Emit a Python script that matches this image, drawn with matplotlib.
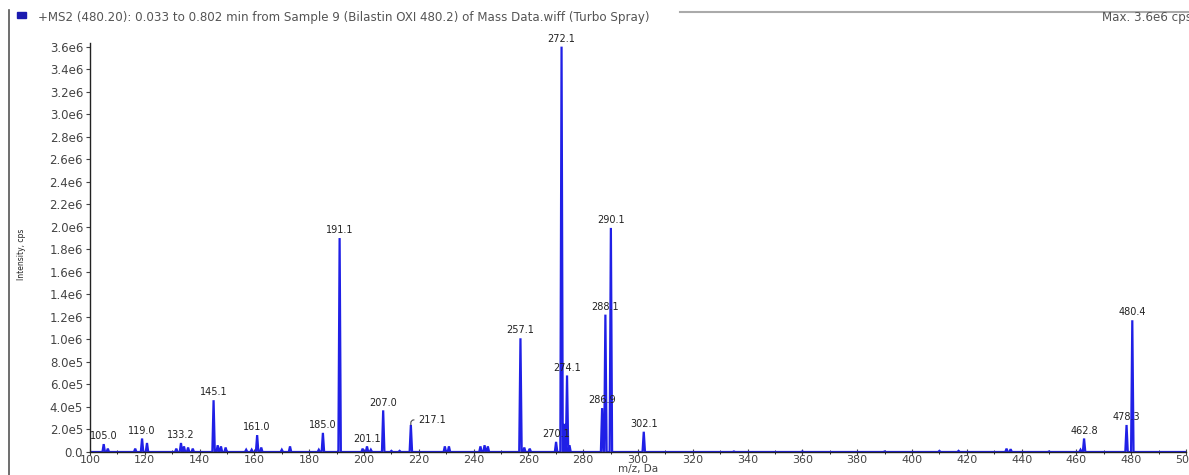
import matplotlib
matplotlib.use("Agg")
import matplotlib.pyplot as plt
from matplotlib.ticker import MultipleLocator, FuncFormatter
from matplotlib.patches import Rectangle
from matplotlib.lines import Line2D

# ---- data (m/z, intensity in cps) ----
peak_mz = [105.0, 106.5, 116.5, 119.0, 120.8, 131.5, 133.2, 134.3, 135.8, 137.5,
           145.1, 146.6, 147.8, 149.5, 157.0, 159.0, 161.0, 162.5, 170.0, 173.0,
           183.5, 185.0, 191.1, 199.5, 201.1, 202.5, 207.0, 210.0, 213.0, 217.1,
           229.5, 231.0, 242.5, 244.0, 245.2, 257.1, 258.5, 260.5, 270.1, 272.1,
           273.2, 274.1, 275.0, 286.9, 288.1, 290.1, 302.1, 335.0, 360.0, 390.0,
           410.0, 417.0, 434.5, 436.0, 450.0, 461.5, 462.8, 478.3, 480.4]
peak_int = [0.07e6, 0.03e6, 0.03e6, 0.12e6, 0.08e6, 0.03e6, 0.08e6, 0.05e6, 0.04e6, 0.03e6,
            0.46e6, 0.06e6, 0.05e6, 0.04e6, 0.02e6, 0.02e6, 0.15e6, 0.04e6, 0.02e6, 0.05e6,
            0.02e6, 0.17e6, 1.90e6, 0.03e6, 0.05e6, 0.02e6, 0.37e6, 0.01e6, 0.01e6, 0.24e6,
            0.05e6, 0.05e6, 0.05e6, 0.06e6, 0.05e6, 1.01e6, 0.04e6, 0.03e6, 0.09e6, 3.60e6,
            0.25e6, 0.68e6, 0.06e6, 0.39e6, 1.22e6, 1.99e6, 0.18e6, 0.005e6, 0.005e6, 0.005e6,
            0.01e6, 0.01e6, 0.03e6, 0.025e6, 0.005e6, 0.02e6, 0.12e6, 0.24e6, 1.17e6]

label_text = ["105.0", "119.0", "133.2", "145.1", "161.0", "185.0", "191.1", "201.1",
              "207.0", "217.1", "257.1", "270.1", "272.1", "274.1", "286.9", "288.1",
              "290.1", "302.1", "462.8", "478.3", "480.4"]
label_mz = [105.0, 119.0, 133.2, 145.1, 161.0, 185.0, 191.1, 201.1,
            207.0, 217.1, 257.1, 270.1, 272.1, 274.1, 286.9, 288.1,
            290.1, 302.1, 462.8, 478.3, 480.4]
label_int = [0.07e6, 0.12e6, 0.08e6, 0.46e6, 0.15e6, 0.17e6, 1.90e6, 0.05e6,
             0.37e6, 0.24e6, 1.01e6, 0.09e6, 3.60e6, 0.68e6, 0.39e6, 1.22e6,
             1.99e6, 0.18e6, 0.12e6, 0.24e6, 1.17e6]

header = "+MS2 (480.20): 0.033 to 0.802 min from Sample 9 (Bilastin OXI 480.2) of Mass Data.wiff (Turbo Spray)"
max_text = "Max. 3.6e6 cps"

W, H = 1189, 475
fig = plt.figure(figsize=(W / 100, H / 100), dpi=100)

ax_l, ax_r, ax_b, ax_t = 90, 1186, 452, 41
ax = fig.add_axes([ax_l / W, (H - ax_b) / H, (ax_r - ax_l) / W, (ax_b - ax_t) / H])

# build profile trace from peak list
blue = "#2020e6"
hw = 0.45
pts = sorted(zip(peak_mz, peak_int))
xs, ys = [100.0], [0.0]
for m, h in pts:
    xs += [m - hw, m, m + hw]
    ys += [0.0, h, 0.0]
xs.append(500.0)
ys.append(0.0)
ax.plot(xs, ys, color=blue, lw=1.6, solid_joinstyle="miter")

ax.set_xlim(100, 500)
ax.set_ylim(0, 3.65e6)

for s in ["top", "right"]:
    ax.spines[s].set_visible(False)
for s in ["left", "bottom"]:
    ax.spines[s].set_linewidth(1.0)
    ax.spines[s].set_color("#222222")
ax.spines["left"].set_bounds(0, 3.63e6)

ax.xaxis.set_major_locator(MultipleLocator(20))
ax.xaxis.set_minor_locator(MultipleLocator(10))
ax.yaxis.set_major_locator(MultipleLocator(0.2e6))


def yfmt(v, pos):
    if abs(v) < 1:
        return "0.0"
    s = "%.1e" % v
    mant, ex = s.split("e")
    return "%se%d" % (mant, int(ex))


ax.yaxis.set_major_formatter(FuncFormatter(yfmt))
ax.xaxis.set_major_formatter(FuncFormatter(lambda v, p: "%d" % v))
ax.tick_params(axis="x", which="major", direction="inout", length=5, width=0.8,
               labelsize=8, colors="#444444", pad=0)
ax.tick_params(axis="x", which="minor", direction="inout", length=3, width=0.6)
ax.tick_params(axis="y", which="major", direction="out", length=3, width=0.8,
               labelsize=8.5, colors="#444444", pad=2)
for lbl in ax.get_xticklabels() + ax.get_yticklabels():
    lbl.set_color("#444444")

for t, m, h in zip(label_text, label_mz, label_int):
    if t == "217.1":
        ax.annotate(t, xy=(m, h), xytext=(219.8, 0.285e6), fontsize=7,
                    color="#222222", ha="left", va="center",
                    arrowprops=dict(arrowstyle="-", color="#333333", lw=0.7,
                                    shrinkA=1, shrinkB=0,
                                    connectionstyle="angle,angleA=0,angleB=90,rad=3"))
    else:
        ax.annotate(t, xy=(m, h), xytext=(0, 2), textcoords="offset points",
                    fontsize=7, color="#222222", ha="center", va="bottom")

ax.set_ylabel("Intensity, cps", fontsize=5.5, color="#222222", labelpad=0)
ax.yaxis.set_label_coords(-0.058, 0.48)
fig.text(638 / W, 1 - 469 / H, "m/z, Da", fontsize=7.5, color="#444444",
         ha="center", va="center")

# outer frame and header
fig.add_artist(Line2D([9 / W, 9 / W], [0, 1 - 10 / H], color="#555555", lw=1.2))
fig.add_artist(Line2D([680 / W, 1], [1 - 12 / H, 1 - 12 / H], color="#aaaaaa", lw=1.5))
fig.add_artist(Rectangle((17 / W, 1 - 18 / H), 9 / W, 6 / H, color="#1a1ab0",
                         transform=fig.transFigure))
fig.text(38 / W, 1 - 17 / H, header, fontsize=8.6, color="#555555", va="center", ha="left")
fig.text(1102 / W, 1 - 17 / H, max_text, fontsize=8.6, color="#555555", va="center", ha="left")

fig.savefig("out.png", dpi=100)
